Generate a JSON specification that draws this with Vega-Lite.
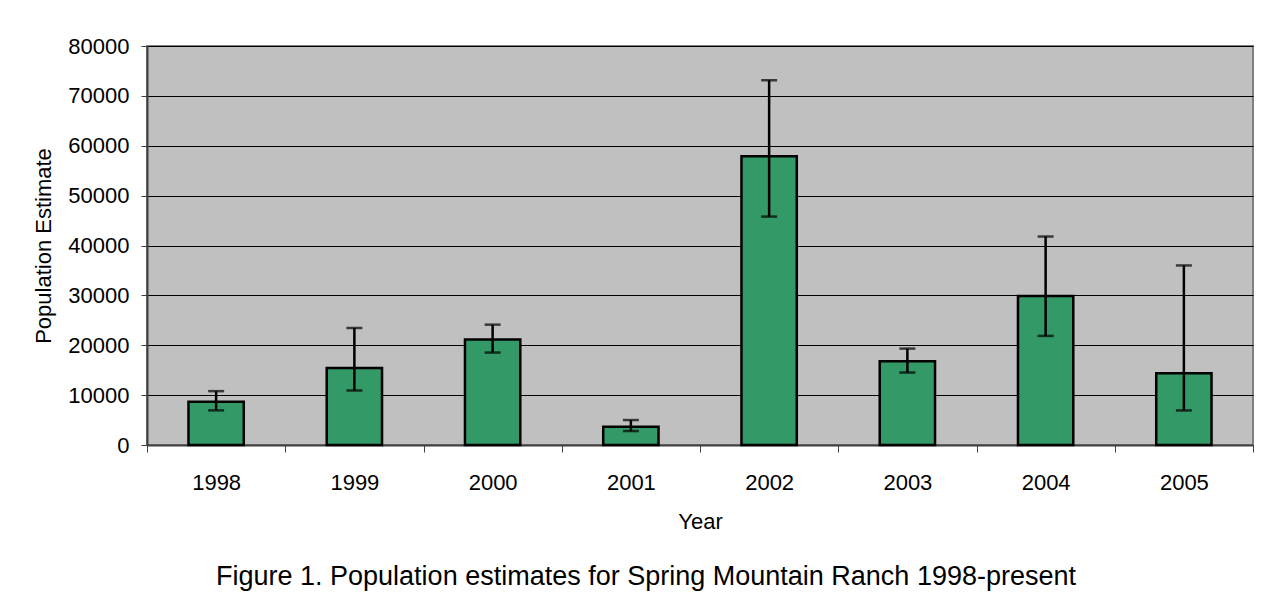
{
  "$schema": "https://vega.github.io/schema/vega-lite/v6.json",
  "autosize": {"type": "none"},
  "width": 1106,
  "height": 399,
  "padding": {"left": 147, "top": 46, "right": 14, "bottom": 152},
  "background": "white",
  "config": {
    "font": "Liberation Sans",
    "view": {"fill": "#C0C0C0", "stroke": "#808080", "strokeWidth": 2},
    "axisY": {
      "titleFontSize": 22,
      "titleFontWeight": "normal",
      "titleColor": "black",
      "titlePadding": 12,
      "labelFontSize": 22,
      "labelColor": "black",
      "labelPadding": 12,
      "labelOverlap": false,
      "tickSize": 6,
      "tickColor": "#404040",
      "domainColor": "#404040",
      "domainWidth": 2,
      "grid": true,
      "gridColor": "black",
      "gridWidth": 1.2,
      "gridOpacity": 1
    }
  },
  "title": {
    "text": "Figure 1. Population estimates for Spring Mountain Ranch 1998-present",
    "orient": "bottom",
    "anchor": "middle",
    "fontSize": 27,
    "fontWeight": "normal",
    "color": "black",
    "font": "Liberation Sans",
    "offset": 32,
    "dx": -54
  },
  "data": {
    "values": [
      {"Year": "1998", "Estimate": 8660, "Low": 6940, "High": 10800},
      {"Year": "1999", "Estimate": 15460, "Low": 10930, "High": 23460},
      {"Year": "2000", "Estimate": 21130, "Low": 18530, "High": 24130},
      {"Year": "2001", "Estimate": 3670, "Low": 2800, "High": 5000},
      {"Year": "2002", "Estimate": 57870, "Low": 45800, "High": 73130},
      {"Year": "2003", "Estimate": 16800, "Low": 14530, "High": 19330},
      {"Year": "2004", "Estimate": 29870, "Low": 21870, "High": 41800},
      {"Year": "2005", "Estimate": 14400, "Low": 6930, "High": 36000}
    ]
  },
  "encoding": {
    "x": {
      "field": "Year",
      "type": "ordinal",
      "scale": {"paddingInner": 0, "paddingOuter": 0},
      "axis": {
        "title": "Year",
        "titleFontSize": 22,
        "titleFontWeight": "normal",
        "titleColor": "black",
        "titlePadding": 18,
        "labelAngle": 0,
        "labelFontSize": 22,
        "labelColor": "black",
        "labelPadding": 20,
        "tickBand": "extent",
        "tickSize": 7,
        "tickColor": "#404040",
        "domainColor": "#404040",
        "domainWidth": 2,
        "grid": false
      }
    }
  },
  "layer": [
    {
      "mark": {"type": "bar", "fill": "#339966", "stroke": "black", "strokeWidth": 2.5, "width": {"band": 0.4}},
      "encoding": {
        "y": {
          "field": "Estimate",
          "type": "quantitative",
          "scale": {"domain": [0, 80000], "nice": false},
          "axis": {"title": "Population Estimate", "format": "d", "values": [0, 10000, 20000, 30000, 40000, 50000, 60000, 70000, 80000]}
        }
      }
    },
    {
      "mark": {"type": "rule", "color": "black", "strokeWidth": 2.5},
      "encoding": {
        "y": {"field": "Low", "type": "quantitative", "axis": {"title": "Population Estimate", "format": "d", "values": [0, 10000, 20000, 30000, 40000, 50000, 60000, 70000, 80000]}},
        "y2": {"field": "High"}
      }
    },
    {
      "mark": {"type": "tick", "color": "black", "thickness": 2.5, "size": 16, "orient": "horizontal"},
      "encoding": {"y": {"field": "Low", "type": "quantitative", "axis": {"title": "Population Estimate", "format": "d", "values": [0, 10000, 20000, 30000, 40000, 50000, 60000, 70000, 80000]}}}
    },
    {
      "mark": {"type": "tick", "color": "black", "thickness": 2.5, "size": 16, "orient": "horizontal"},
      "encoding": {"y": {"field": "High", "type": "quantitative", "axis": {"title": "Population Estimate", "format": "d", "values": [0, 10000, 20000, 30000, 40000, 50000, 60000, 70000, 80000]}}}
    }
  ]
}
